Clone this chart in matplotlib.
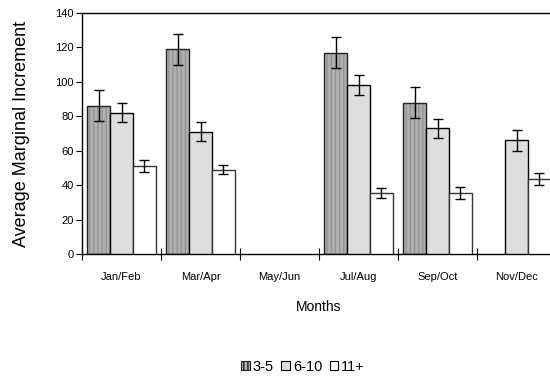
import numpy as np
import matplotlib
matplotlib.use("Agg")
import matplotlib.pyplot as plt
from matplotlib.patches import Patch

plt.rcParams['font.family'] = ['Liberation Sans', 'DejaVu Sans']
plt.rcParams['hatch.linewidth'] = 1.0

# data (nan = no bar)
months = ["Jan/Feb", "Mar/Apr", "May/Jun", "Jul/Aug", "Sep/Oct", "Nov/Dec"]
age_3_5 = [86, 119, np.nan, 117, 88, np.nan]
age_3_5_err = [9, 9, np.nan, 9, 9, np.nan]
age_6_10 = [82, 71, np.nan, 98, 73, 66]
age_6_10_err = [5.5, 5.5, np.nan, 5.7, 5.7, 6]
age_11 = [51, 49, np.nan, 35.5, 35.5, 43.5]
age_11_err = [3.5, 2.8, np.nan, 3, 3.3, 3.4]
series_names = ["3-5", "6-10", "11+"]

fig = plt.figure(figsize=(5.5, 3.8), dpi=100)
ax = fig.add_axes([82/550, 126/380, 474/550, 241/380])

x = np.arange(len(months)) + 0.5
w = 0.29

# dark bars: gray with vertical stripes
ax.bar(x - w, age_3_5, w, color="#b0b0b0", edgecolor="#939393", hatch="||||", linewidth=0, zorder=2)
ax.bar(x - w, age_3_5, w, fill=False, edgecolor="#222222", linewidth=1.0, zorder=3)
ax.bar(x, age_6_10, w, color="#dedede", edgecolor="black", linewidth=1.0, zorder=3)
ax.bar(x + w, age_11, w, color="white", edgecolor="#333333", linewidth=1.0, zorder=3)

for off, vals, errs in [(-w, age_3_5, age_3_5_err), (0, age_6_10, age_6_10_err), (w, age_11, age_11_err)]:
    ax.errorbar(x + off, vals, yerr=errs, fmt="none", ecolor="black", elinewidth=1.0,
                capsize=3.5, capthick=1.0, zorder=4)

ax.set_xlim(0, 6)
ax.set_ylim(0, 140)
ax.set_yticks(np.arange(0, 141, 20))
ax.tick_params(axis="y", direction="out", length=4, labelsize=8, pad=2)

ax.set_xticks(np.arange(0, 7), minor=False)
ax.set_xticklabels([])
ax.tick_params(axis="x", which="major", direction="inout", length=9)
ax.set_xticks(x, minor=True)
ax.set_xticklabels(months, minor=True, fontsize=8)
ax.tick_params(axis="x", which="minor", length=0, pad=13)

for s in ax.spines.values():
    s.set_linewidth(1.0)
    s.set_color("black")

ax.set_ylabel("Average Marginal Increment", fontsize=13, labelpad=18)
ax.set_xlabel("Months", fontsize=10, labelpad=13)

handles = [Patch(facecolor="#b0b0b0", edgecolor="#222222", hatch="||||", linewidth=0.8),
           Patch(facecolor="#dedede", edgecolor="black", linewidth=0.8),
           Patch(facecolor="white", edgecolor="black", linewidth=0.8)]
fig.legend(handles, series_names, loc="center", bbox_to_anchor=(303/550, 1 - 367/380),
           ncol=3, frameon=False, fontsize=10.5, handlelength=0.6, handleheight=0.6,
           handletextpad=0.2, columnspacing=0.5)

fig.savefig("out.png", dpi=100)
